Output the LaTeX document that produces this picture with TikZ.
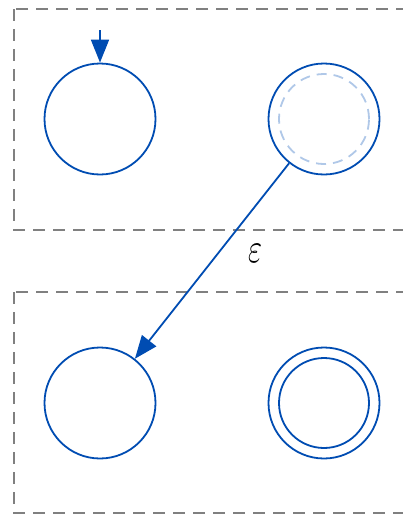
\documentclass[tikz,border=0pt]{standalone}
\usetikzlibrary{arrows.meta}
\definecolor{stblue}{RGB}{0,76,178}
\definecolor{stlight}{RGB}{176,200,232}
\definecolor{boxgray}{RGB}{128,128,128}
\begin{document}
\begin{tikzpicture}[x=1pt,y=-1pt]
\tikzstyle{s}=[draw=stblue,circle,minimum size=111pt,inner sep=0pt,line width=1.8pt]
\tikzstyle{sin}=[s,minimum size=90pt]
\tikzstyle{ghost}=[sin,draw=stlight,dash pattern=on 10pt off 7pt]
\tikzstyle{grp}=[draw=boxgray,line width=1.8pt,dash pattern=on 12pt off 8pt]
\tikzstyle{move}=[stblue,line width=1.8pt,-{Triangle[length=23pt,width=18pt]}]
\useasboundingbox (0,0) rectangle (403,514);
\clip (0,0) rectangle (403,514);

% Groups
\draw[grp] (14,9) rectangle (430,230);
\draw[grp] (14,292) rectangle (430,513);

% States, top group
\node[s] (p0) at (100,119) {};
\node[s] (p1) at (324,119) {};
\node[ghost] (p1in) at (324,119) {};
\coordinate (start) at (100,30);
\draw[move] (start)--(p0);

% States, bottom group
\node[s] (q0) at (100,403) {};
\node[s] (q1) at (324,403) {};
\node[sin] (q1in) at (324,403) {};

% Epsilon move
\draw[move] (p1)--(q0);
\node[xscale=3,yscale=4.2] (eps) at (255,253) {$\varepsilon$};
\end{tikzpicture}
\end{document}
